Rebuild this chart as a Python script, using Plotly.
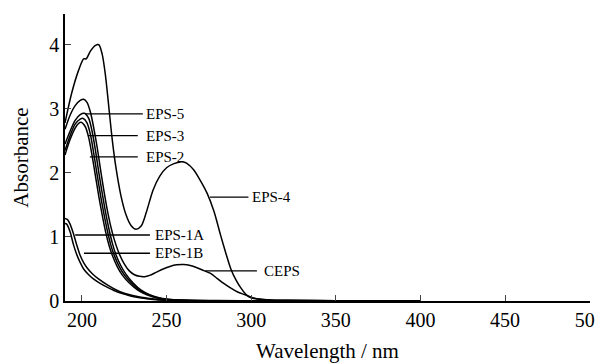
import plotly.graph_objects as go

# ---- data (wavelength nm, absorbance) ----
eps4_wl = [190, 194, 198, 201, 202.5, 205, 208, 210, 212, 214, 216, 218, 220, 223, 226, 229, 232, 235, 238, 242, 246, 250, 254, 258, 260, 262, 266, 270, 274, 278, 282, 285, 288, 291, 294, 297, 300, 305, 310, 320, 350, 400]
eps4_a = [2.78, 3.25, 3.6, 3.78, 3.78, 3.9, 3.99, 4.0, 3.85, 3.5, 3.0, 2.5, 2.1, 1.65, 1.35, 1.18, 1.12, 1.17, 1.38, 1.73, 1.95, 2.08, 2.14, 2.17, 2.17, 2.15, 2.05, 1.88, 1.68, 1.4, 1.02, 0.75, 0.5, 0.33, 0.2, 0.1, 0.05, 0.025, 0.015, 0.01, 0.005, 0.003]

ceps_wl = [190, 193, 196, 199, 201, 203, 205, 207, 209, 211, 213, 215, 217, 219, 222, 225, 228, 231, 234, 237, 240, 244, 248, 252, 256, 260, 264, 268, 272, 276, 280, 284, 288, 292, 296, 300, 305, 310, 320, 350, 400]
ceps_a = [2.68, 2.9, 3.05, 3.13, 3.15, 3.1, 2.95, 2.7, 2.4, 2.05, 1.72, 1.42, 1.17, 0.97, 0.74, 0.58, 0.47, 0.41, 0.385, 0.38, 0.4, 0.45, 0.5, 0.54, 0.565, 0.57, 0.555, 0.52, 0.475, 0.43, 0.35, 0.27, 0.2, 0.14, 0.1, 0.06, 0.03, 0.02, 0.01, 0.005, 0.003]

eps5_wl = [190, 193, 196, 199, 201.5, 204, 206, 208, 210, 212, 214, 216, 218, 220, 223, 226, 230, 235, 240, 245, 250, 260, 280, 300, 360]
eps5_a = [2.45, 2.65, 2.82, 2.91, 2.93, 2.85, 2.65, 2.35, 2.0, 1.68, 1.38, 1.12, 0.9, 0.73, 0.55, 0.42, 0.29, 0.17, 0.1, 0.055, 0.03, 0.012, 0.006, 0.004, 0.002]

eps3_wl = [190, 193, 196, 199, 200.8, 203, 205, 207, 209, 211, 213, 215, 217, 219, 222, 225, 229, 234, 239, 244, 250, 260, 280, 300, 360]
eps3_a = [2.35, 2.58, 2.76, 2.84, 2.85, 2.78, 2.6, 2.3, 1.97, 1.65, 1.36, 1.1, 0.88, 0.72, 0.54, 0.41, 0.29, 0.17, 0.1, 0.055, 0.025, 0.01, 0.005, 0.003, 0.002]

eps2_wl = [190, 193, 196, 198, 199.5, 202, 204, 206, 208, 210, 212, 214, 216, 218, 221, 224, 228, 233, 238, 243, 250, 260, 280, 300, 360]
eps2_a = [2.28, 2.52, 2.7, 2.77, 2.79, 2.72, 2.55, 2.27, 1.95, 1.63, 1.34, 1.08, 0.87, 0.71, 0.53, 0.4, 0.28, 0.17, 0.1, 0.055, 0.022, 0.01, 0.005, 0.003, 0.002]

eps1a_wl = [190, 191.5, 193, 195, 197, 199, 201, 203, 206, 210, 215, 220, 225, 230, 235, 240, 246, 255, 270, 300, 400]
eps1a_a = [1.29, 1.27, 1.2, 1.05, 0.87, 0.71, 0.6, 0.52, 0.43, 0.34, 0.25, 0.175, 0.12, 0.085, 0.06, 0.04, 0.02, 0.01, 0.005, 0.003, 0.001]

eps1b_wl = [190, 191, 193, 195, 197, 199, 201, 204, 207, 211, 216, 221, 226, 230, 235, 240, 246, 255, 270, 300, 400]
eps1b_a = [1.21, 1.2, 1.08, 0.88, 0.72, 0.6, 0.5, 0.41, 0.34, 0.27, 0.2, 0.14, 0.1, 0.07, 0.045, 0.03, 0.015, 0.007, 0.004, 0.002, 0.001]

x_ticks = [200, 250, 300, 350, 400, 450, 500]
y_ticks = [0, 1, 2, 3, 4]

# label name, leader start (wl, A), leader end wl, text wl
labels = [
    ("EPS-5", 201.8, 2.92, 236.0, 236.5),
    ("EPS-3", 203.6, 2.58, 233.0, 236.5),
    ("EPS-2", 204.7, 2.25, 233.0, 236.5),
    ("EPS-4", 275.7, 1.62, 298.4, 299.4),
    ("EPS-1A", 196.0, 1.03, 240.2, 242.0),
    ("EPS-1B", 201.2, 0.745, 240.2, 242.0),
    ("CEPS", 272.8, 0.47, 303.4, 306.5),
]

series = [
    (eps4_wl, eps4_a), (ceps_wl, ceps_a), (eps5_wl, eps5_a), (eps3_wl, eps3_a),
    (eps2_wl, eps2_a), (eps1a_wl, eps1a_a), (eps1b_wl, eps1b_a),
]

serif = "Liberation Serif"

fig = go.Figure()
for wl, a in series:
    fig.add_trace(go.Scatter(x=wl, y=a, mode="lines",
                             line=dict(color="black", width=1.5, shape="spline", smoothing=0.8),
                             showlegend=False, hoverinfo="skip", cliponaxis=False))

for name, x0, y0, x1, xt in labels:
    fig.add_shape(type="line", x0=x0, y0=y0, x1=x1, y1=y0, xref="x", yref="y",
                  line=dict(color="black", width=1.3))
    fig.add_annotation(x=xt, y=y0, text=name, showarrow=False, xanchor="left", yanchor="middle",
                       font=dict(family=serif, size=15, color="black"))

# page body has an 8px margin, so the figure is sized to fit 603x363 from (8,8)
fig.update_layout(
    width=595, height=355,
    margin=dict(l=57, r=13, t=6, b=62),
    plot_bgcolor="white", paper_bgcolor="white",
    font=dict(family=serif, color="black"),
    xaxis=dict(range=[190, 500.2], tickvals=x_ticks, ticks="inside", ticklen=6, tickwidth=1.3,
               showline=True, linecolor="black", linewidth=1.5, showgrid=False, zeroline=False,
               automargin=False, ticklabeloverflow="allow",
               tickfont=dict(family=serif, size=20, color="black"),
               title=dict(text="Wavelength / nm", font=dict(family=serif, size=21, color="black"), standoff=16)),
    yaxis=dict(range=[0, 4.48], tickvals=y_ticks, ticks="inside", ticklen=6, tickwidth=1.3,
               showline=True, linecolor="black", linewidth=1.5, showgrid=False, zeroline=False,
               automargin=False,
               tickfont=dict(family=serif, size=20, color="black"),
               title=dict(text="Absorbance", font=dict(family=serif, size=21, color="black"), standoff=15)),
)

fig.write_html("out.html")
